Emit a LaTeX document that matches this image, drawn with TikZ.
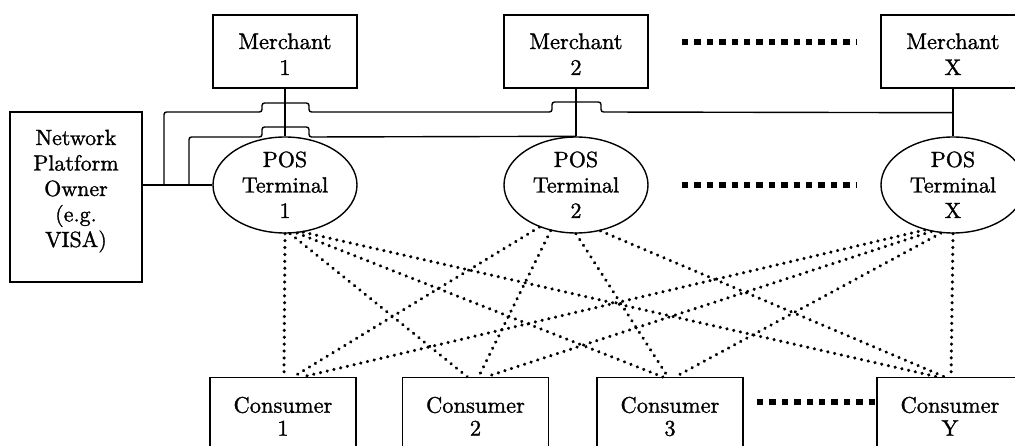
\documentclass[tikz,border=0pt]{standalone}
\usepackage{fontspec}
\setmainfont{lmroman10-regular}[Extension=.otf, FakeBold=1.2]
\usetikzlibrary{shapes.geometric}
\begin{document}
\begin{tikzpicture}[x=1pt,y=-1pt,
  merchbox/.style={draw, line width=1.4pt, minimum width=144pt, minimum height=73pt,
    inner sep=0pt, align=center, text height=47pt, text depth=0pt, font=\fontsize{22.5}{26}\selectfont},
  consbox/.style={draw, line width=1.4pt, minimum width=146pt, inner xsep=0pt, inner ysep=20pt,
    anchor=north, align=center, text height=38pt, text depth=0pt, font=\fontsize{22.5}{23}\selectfont},
  npobox/.style={draw, line width=1.4pt, minimum width=132pt, minimum height=170pt,
    inner sep=0pt, align=center, text height=100pt, text depth=0pt, font=\fontsize{22}{25.5}\selectfont},
  terminal/.style={ellipse, draw, line width=1.4pt, minimum width=144pt, minimum height=96pt,
    inner sep=0pt, align=center, text height=66pt, text depth=0pt, font=\fontsize{22}{25.5}\selectfont},
  solidlink/.style={line width=1.4pt},
  dotlink/.style={line width=3.4pt, line cap=round, dash pattern=on 0.1pt off 6.8pt},
  ellipsisdots/.style={line width=6pt, dash pattern=on 6.4pt off 6pt}
]
\useasboundingbox (0,0) rectangle (1015,446);
\clip (0,0) rectangle (1015,446);
\fill[white] (0,0) rectangle (1015,446);

% Merchants
\node[merchbox] (m1) at (285,51.5) {Merchant\\1};
\node[merchbox] (m2) at (576,51.5) {Merchant\\2};
\node[merchbox] (mX) at (953,51.5) {Merchant\\X};

% POS terminals
\node[terminal] (p1) at (285,185) {POS\\Terminal\\1};
\node[terminal] (p2) at (576,185) {POS\\Terminal\\2};
\node[terminal] (pX) at (953,185) {POS\\Terminal\\X};

% Network platform owner
\node[npobox] (npo) at (76,197) {Network\\Platform\\Owner\\(e.g.\\VISA)};

% Consumers
\node[consbox] (c1) at (283,377) {Consumer\\1};
\node[consbox] (c2) at (475.5,377) {Consumer\\2};
\node[consbox] (c3) at (670,377) {Consumer\\3};
\node[consbox] (cY) at (950,377) {Consumer\\Y};

% ellipsis rows
\coordinate (e1a) at (682,42);  \coordinate (e1b) at (856,42);
\coordinate (e2a) at (682,185); \coordinate (e2b) at (856,185);
\coordinate (e3a) at (757,402); \coordinate (e3b) at (876,402);
\draw[ellipsisdots] (e1a) -- (e1b);
\draw[ellipsisdots] (e2a) -- (e2b);
\draw[ellipsisdots] (e3a) -- (e3b);

% merchant - terminal links
\draw[solidlink] (m1.south) -- (p1.north);
\draw[solidlink] (m2.south) -- (p2.north);
\draw[solidlink] (mX.south) -- (pX.north);

% network owner links
\coordinate (b1) at (164,185);
\coordinate (b2) at (189,185);
\path (mX.south) ++(0,24) coordinate (jX);
\draw[solidlink] (npo.east |- p1.west) -- (p1.west);
\draw[solidlink, rounded corners=2.5pt] (b1) -- (164,112) -- (262,112) -- (262,103)
  -- (309,103) -- (309,112) -- (552,112) -- (552,102) -- (601,102) -- (601,112) -- (jX);
\draw[solidlink, rounded corners=2.5pt] (b2) -- (189,137) -- (262,137) -- (262,127)
  -- (309,127) -- (309,137) -- (p2.north);

% terminal - consumer links
\draw[dotlink] (p1.-90)  -- ([xshift=1pt]c1.north);
\draw[dotlink] (p1.-84)  -- ([xshift=-8pt]c2.north);
\draw[dotlink] (p1.-76)  -- ([xshift=-7pt]c3.north);
\draw[dotlink] (p1.-69)  -- ([xshift=-12pt]cY.north);

\draw[dotlink] (p2.-131) -- ([xshift=10pt]c1.north);
\draw[dotlink] (p2.-119) -- ([xshift=3pt]c2.north);
\draw[dotlink] (p2.-90)  -- ([xshift=-2pt]c3.north);
\draw[dotlink] (p2.-62)  -- ([xshift=-5pt]cY.north);

\draw[dotlink] (pX.-122) -- ([xshift=19pt]c1.north);
\draw[dotlink] (pX.-115) -- ([xshift=10pt]c2.north);
\draw[dotlink] (pX.-104) -- ([xshift=5pt]c3.north);
\draw[dotlink] (pX.-90)  -- ([xshift=1pt]cY.north);
\end{tikzpicture}
\end{document}
